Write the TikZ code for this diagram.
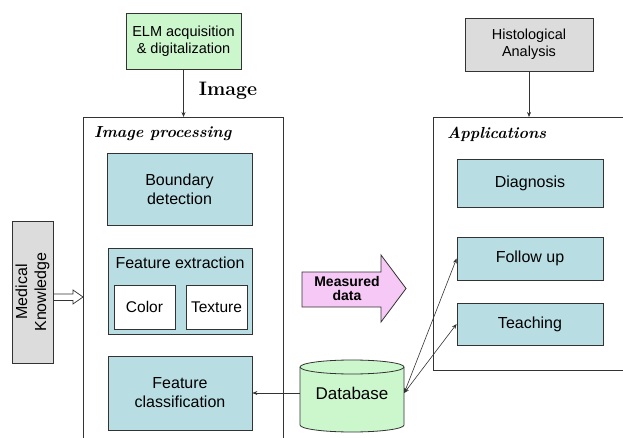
\documentclass[tikz,border=0pt]{standalone}
\usepackage{fontspec}
\setmainfont{Liberation Sans}
\newfontfamily\lmserif{Latin Modern Roman}
\usetikzlibrary{arrows.meta}

\definecolor{tealfill}{HTML}{B8DEE4}
\definecolor{greenfill}{HTML}{CCF6CC}
\definecolor{grayfill}{HTML}{DCDCDC}
\definecolor{pinkfill}{HTML}{F6C8F6}
\definecolor{edge}{HTML}{333333}

\tikzset{
  base/.style={draw=edge, line width=0.8pt, align=center, inner sep=0pt,
    font=\fontsize{16}{19}\selectfont},
  tealbox/.style={base, fill=tealfill},
  subbox/.style={base, fill=white, font=\fontsize{15.5}{18}\selectfont},
  greenbox/.style={base, fill=greenfill, font=\fontsize{14.5}{17}\selectfont},
  graybox/.style={base, fill=grayfill},
  frame/.style={draw=edge, line width=0.8pt, anchor=north west, inner sep=0pt},
  heading/.style={anchor=west, inner sep=0pt,
    font=\lmserif\bfseries\itshape\fontsize{16}{19}\selectfont},
  link/.style={draw=edge, line width=0.6pt, -{Stealth[length=5pt,width=4pt]}},
  twoway/.style={link, {Stealth[length=5pt,width=4pt]}-{Stealth[length=5pt,width=4pt]}},
}

\begin{document}
\begin{tikzpicture}[x=1pt,y=-1pt]
\useasboundingbox (0,0) rectangle (623,438);
\clip (0,0) rectangle (623,438);

% source boxes on top
\node[greenbox, minimum width=115pt, minimum height=56pt] (elm) at (183.5,41)
  {ELM acquisition\\\& digitalization};
\node[graybox, font=\fontsize{14.5}{17}\selectfont,
  minimum width=128pt, minimum height=53pt] (hist) at (529,44.5)
  {Histological\\Analysis};

% image processing frame (runs past the lower edge)
\node[frame, minimum width=200pt, minimum height=340pt] (ip) at (83,117) {};
\node[heading] (iptitle) at (94,134) {Image processing};
\node[anchor=center, inner sep=0pt, font=\lmserif\bfseries\fontsize{19.5}{22}\selectfont]
  (imglabel) at (228,91) {Image};

\node[tealbox, minimum width=145pt, minimum height=72pt] (bd) at (179.5,189)
  {Boundary\\detection};
\node[tealbox, minimum width=144pt, minimum height=86pt] (fe) at (180,291) {};
\node[inner sep=0pt, font=\fontsize{16}{19}\selectfont] (fetitle) at (180,263)
  {Feature extraction};
\node[subbox, minimum width=61pt, minimum height=44pt] (color) at (144.5,307) {Color};
\node[subbox, minimum width=61pt, minimum height=44pt] (texture) at (216.5,307) {Texture};
\node[tealbox, minimum width=144pt, minimum height=74pt] (fc) at (180,393)
  {Feature\\classification};

% medical knowledge
\node[graybox, rotate=90, minimum width=142pt, minimum height=41pt] (mk) at (32.5,292)
  {Medical\\Knowledge};

% applications frame (runs past the right edge)
\node[frame, minimum width=200pt, minimum height=253pt] (ap) at (433,117) {};
\node[heading] (aptitle) at (447,134) {Applications};
\node[tealbox, minimum width=146pt, minimum height=48pt] (diag) at (530,183) {Diagnosis};
\node[tealbox, minimum width=146pt, minimum height=43pt] (fu) at (530,258.5) {Follow up};
\node[tealbox, minimum width=146pt, minimum height=42pt] (te) at (530,324) {Teaching};

% measured data arrow
\draw[draw=edge, line width=0.8pt, fill=pinkfill]
  (302,272) -- (381,272) -- (381,255) -- (406,288.5) -- (381,322) -- (381,307)
  -- (302,307) -- cycle;
\node[inner sep=0pt, align=center, font=\bfseries\fontsize{14}{14.5}\selectfont]
  (md) at (347,288.5) {Measured\\data};

% database cylinder
\draw[draw=edge, line width=0.8pt, fill=greenfill]
  (300,367) -- (300,425) arc[start angle=180, end angle=0, x radius=52, y radius=7]
  -- (404,367) arc[start angle=0, end angle=-180, x radius=52, y radius=7] -- cycle;
\draw[draw=edge, line width=0.8pt]
  (300,367) arc[start angle=180, end angle=0, x radius=52, y radius=7];
\node[inner sep=0pt, minimum width=104pt, minimum height=72pt,
  font=\fontsize{17}{20}\selectfont] (db) at (352,393) {Database};

% connectors
\draw[link] (elm.south) -- (elm.south |- ip.north);
\draw[link] (hist.south) -- (hist.south |- ap.north);
\draw[link] (db.west |- fc.east) -- (fc.east);
\draw[twoway] (db.east) -- (fu.west);
\draw[twoway] (db.east) -- (te.west);

% hollow block arrow from medical knowledge into the processing frame
\draw[draw=edge, line width=0.7pt, fill=white, line join=miter]
  (mk.south |- 0,294) -- (73,294) -- (73,290) -- (ip.west |- 0,297)
  -- (73,304) -- (73,300.5) -- (mk.south |- 0,300.5) -- cycle;
\end{tikzpicture}
\end{document}
